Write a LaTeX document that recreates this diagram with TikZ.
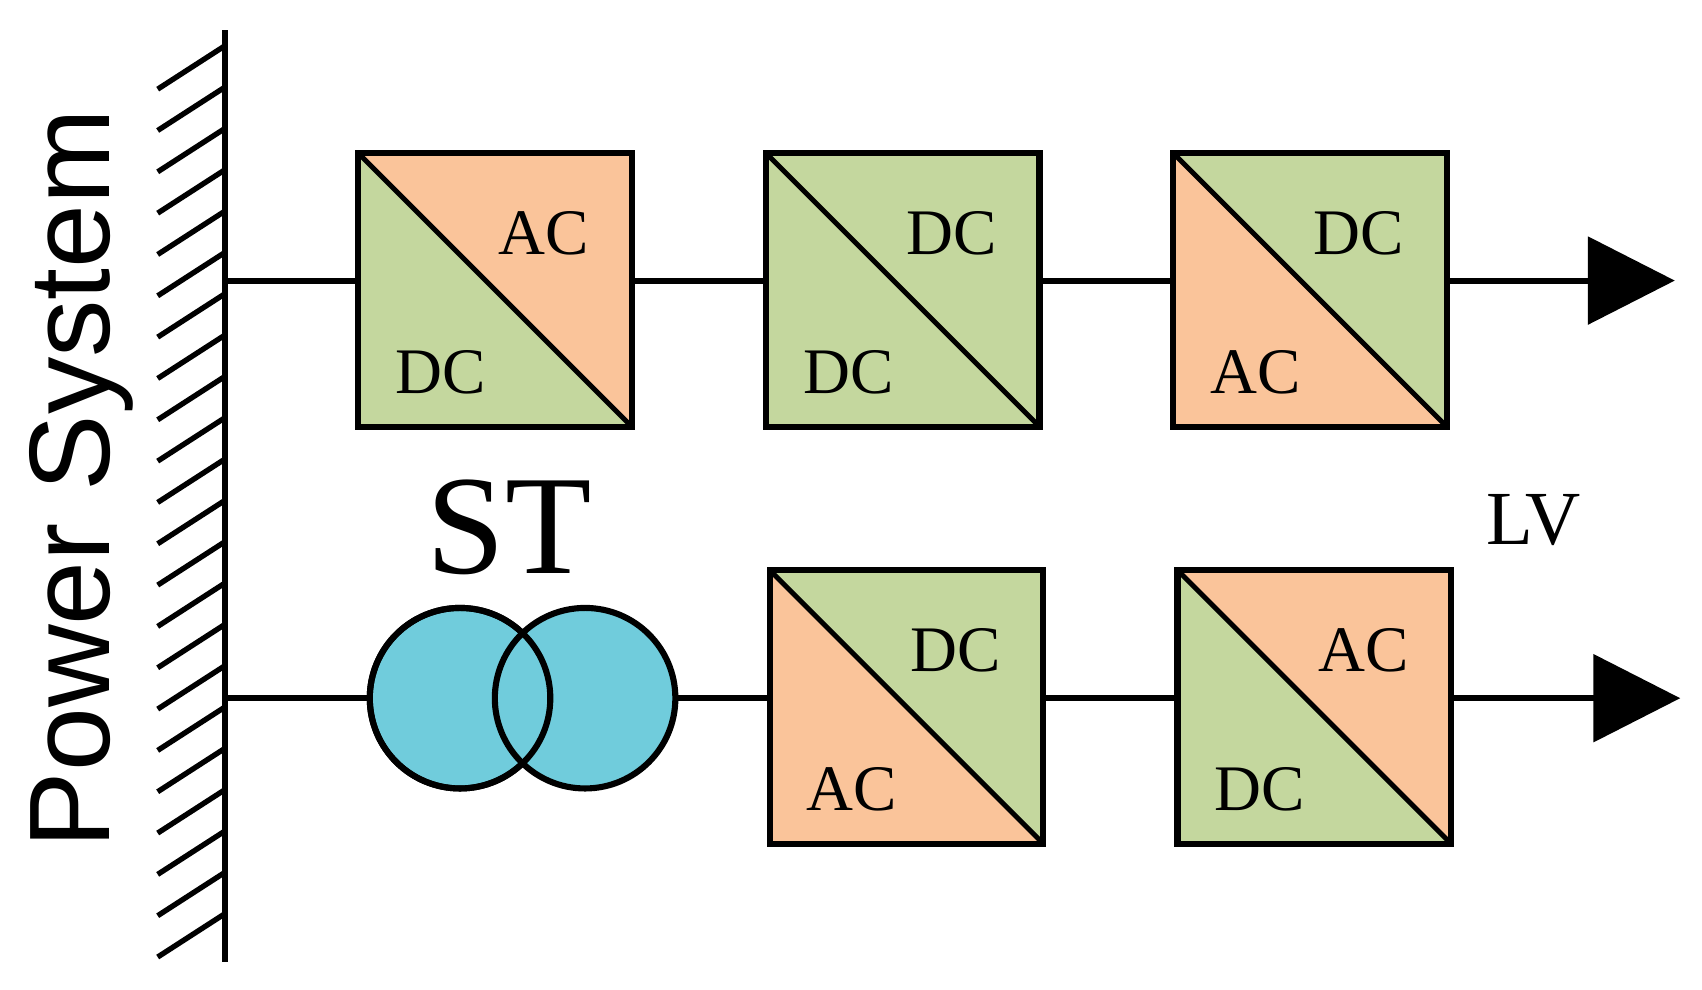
\documentclass[tikz,border=0pt]{standalone}
\usepackage{fontspec}
\setmainfont{Liberation Serif}
\newfontfamily\sansf{Liberation Sans}
\usetikzlibrary{arrows.meta}
\definecolor{oc}{RGB}{250,196,154}
\definecolor{gc}{RGB}{196,215,158}
\definecolor{bc}{RGB}{112,204,220}
\tikzset{
  box/.style={draw,line width=1.6pt,minimum width=2.46cm,minimum height=2.46cm,inner sep=0pt},
  wire/.style={line width=1.6pt},
  lbl/.style={font=\fontsize{17}{17}\selectfont},
  tr/.style={circle,draw,line width=1.6pt,fill=bc,minimum size=1.66cm,inner sep=0pt},
  arr/.style={wire,-{Triangle[length=0.8cm,width=0.8cm]}}
}
\newcommand{\conv}[7]{%
  \node[box] (#1) at (#2) {};
  \fill[#3] (#1.north west)--(#1.north east)--(#1.south east)--cycle;
  \fill[#4] (#1.north west)--(#1.south west)--(#1.south east)--cycle;
  \draw[line width=1.6pt] (#1.north west) rectangle (#1.south east);
  \draw[line width=1.3pt] (#1.north west)--(#1.south east);
  \node[lbl] (#1u) at ($(#1.center)+(0.45,0.52)$) {#5};
  \node[lbl] (#1l) at ($(#1.center)+(-0.5,-0.76)$) {#6};
}
\usetikzlibrary{calc}
\begin{document}
\begin{tikzpicture}
\useasboundingbox (0,0) rectangle (15.65,-9.1);
% bus
\coordinate (bt) at (2.07,-0.28);
\coordinate (bb) at (2.07,-8.85);
\draw[wire] (bt)--(bb);
\foreach \i in {0,...,21}{
  \draw[line width=1.4pt] (2.07,-0.42-0.38*\i)--(1.45,-0.82-0.38*\i);
}
\node[font=\sansf\fontsize{30}{30}\selectfont,rotate=90] (ps) at (0.75,-4.4) {Power System};
% top row
\conv{a}{4.55,-2.665}{oc}{gc}{AC}{DC}{}
\conv{b}{8.30,-2.665}{gc}{gc}{DC}{DC}{}
\conv{c}{12.045,-2.665}{gc}{oc}{DC}{AC}{}
\coordinate (t0) at (2.07,-2.58);
\coordinate (tend) at (15.4,-2.58);
\draw[wire] (t0)--(a.west|-t0);
\draw[wire] (a.east|-t0)--(b.west|-t0);
\draw[wire] (b.east|-t0)--(c.west|-t0);
\draw[arr] (c.east|-t0)--(tend);
% bottom row
\coordinate (u0) at (2.07,-6.42);
\node[tr] (t1) at (4.23,-6.42) {};
\node[tr] (t2) at (5.38,-6.42) {};
\draw[line width=1.6pt] (t1) circle (0.83);
\node[font=\fontsize{37}{37}\selectfont] (st) at (4.68,-4.85) {ST};
\conv{d}{8.335,-6.5}{gc}{oc}{DC}{AC}{}
\conv{e}{12.085,-6.5}{oc}{gc}{AC}{DC}{}
\coordinate (uend) at (15.45,-6.42);
\draw[wire] (u0)--(t1.west);
\draw[wire] (t2.east)--(d.west|-u0);
\draw[wire] (d.east|-u0)--(e.west|-u0);
\draw[arr] (e.east|-u0)--(uend);
\node[font=\fontsize{20}{20}\selectfont] (lv) at (14.1,-4.78) {LV};
\end{tikzpicture}
\end{document}
